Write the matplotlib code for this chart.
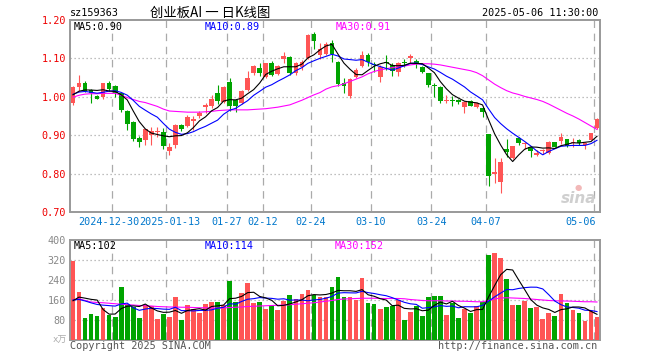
import matplotlib
matplotlib.use('Agg')
import matplotlib.pyplot as plt
from matplotlib.transforms import blended_transform_factory

plt.rcParams['font.family'] = ['DejaVu Sans Mono', 'Noto Sans CJK SC']

W, H = 660, 360

dates = ['2024-12-19','2024-12-20','2024-12-23','2024-12-24','2024-12-25','2024-12-26','2024-12-27','2024-12-30','2024-12-31','2025-01-02',
         '2025-01-03','2025-01-06','2025-01-07','2025-01-08','2025-01-09','2025-01-10','2025-01-13','2025-01-14','2025-01-15','2025-01-16',
         '2025-01-17','2025-01-20','2025-01-21','2025-01-22','2025-01-23','2025-01-24','2025-01-27','2025-02-05','2025-02-06','2025-02-07',
         '2025-02-10','2025-02-11','2025-02-12','2025-02-13','2025-02-14','2025-02-17','2025-02-18','2025-02-19','2025-02-20','2025-02-21',
         '2025-02-24','2025-02-25','2025-02-26','2025-02-27','2025-02-28','2025-03-03','2025-03-04','2025-03-05','2025-03-06','2025-03-07',
         '2025-03-10','2025-03-11','2025-03-12','2025-03-13','2025-03-14','2025-03-17','2025-03-18','2025-03-19','2025-03-20','2025-03-21',
         '2025-03-24','2025-03-25','2025-03-26','2025-03-27','2025-03-28','2025-03-31','2025-04-01','2025-04-02','2025-04-03','2025-04-07',
         '2025-04-08','2025-04-09','2025-04-10','2025-04-11','2025-04-14','2025-04-15','2025-04-16','2025-04-17','2025-04-18','2025-04-21',
         '2025-04-22','2025-04-23','2025-04-24','2025-04-25','2025-04-28','2025-04-29','2025-04-30','2025-05-06']

opens = [0.985,1.026,1.037,1.018,1.002,1.000,1.037,1.028,1.009,0.964,
         0.935,0.894,0.888,0.901,0.908,0.908,0.860,0.874,0.927,0.925,
         0.937,0.950,0.973,0.976,1.009,0.986,1.038,0.992,0.983,1.019,
         1.061,1.076,1.052,1.089,1.059,1.098,1.104,1.063,1.078,1.100,
         1.164,1.108,1.111,1.139,1.091,1.035,1.002,1.051,1.080,1.109,
         1.084,1.052,1.091,1.083,1.065,1.090,1.100,1.094,1.078,1.061,
         1.029,1.026,0.990,0.991,0.991,0.974,0.990,0.973,0.970,0.903,
         0.800,0.779,0.863,0.840,0.892,0.876,0.868,0.848,0.858,0.854,
         0.881,0.886,0.889,0.879,0.888,0.874,0.888,0.918]
highs = [1.028,1.057,1.040,1.021,1.004,1.037,1.042,1.030,1.011,0.966,
         0.937,0.897,0.917,0.922,0.921,0.918,0.879,0.928,0.929,0.953,
         0.951,0.962,0.983,1.005,1.031,1.028,1.050,0.994,1.017,1.068,
         1.082,1.087,1.089,1.092,1.084,1.117,1.107,1.090,1.095,1.163,
         1.168,1.140,1.142,1.148,1.093,1.050,1.050,1.074,1.120,1.115,
         1.091,1.083,1.109,1.089,1.091,1.098,1.111,1.098,1.080,1.062,
         1.035,1.027,1.005,1.002,0.995,0.989,0.991,0.986,0.972,0.903,
         0.841,0.840,0.889,0.873,0.896,0.883,0.870,0.861,0.865,0.885,
         0.883,0.905,0.890,0.892,0.890,0.883,0.906,0.944]
lows = [0.979,1.016,1.012,0.983,0.993,0.995,1.016,1.000,0.960,0.914,
        0.886,0.870,0.874,0.875,0.895,0.864,0.848,0.866,0.912,0.922,
        0.914,0.945,0.958,0.971,0.982,0.984,0.964,0.961,0.980,1.016,
        1.058,1.054,1.050,1.055,1.056,1.089,1.058,1.057,1.070,1.098,
        1.125,1.098,1.108,1.090,1.027,1.010,0.997,1.049,1.078,1.080,
        1.065,1.039,1.070,1.054,1.054,1.078,1.089,1.075,1.061,1.026,
        1.000,0.985,0.985,0.976,0.980,0.959,0.975,0.971,0.948,0.768,
        0.776,0.750,0.844,0.838,0.874,0.863,0.842,0.846,0.852,0.852,
        0.868,0.877,0.870,0.870,0.875,0.863,0.887,0.915]
closes = [1.026,1.037,1.016,1.009,0.995,1.035,1.020,1.010,0.966,0.929,
          0.890,0.882,0.915,0.912,0.910,0.873,0.870,0.927,0.915,0.947,
          0.941,0.957,0.979,0.993,0.990,1.026,0.975,0.976,1.015,1.048,
          1.080,1.061,1.087,1.057,1.080,1.106,1.061,1.087,1.091,1.162,
          1.146,1.125,1.138,1.112,1.034,1.028,1.046,1.070,1.109,1.091,
          1.082,1.078,1.089,1.068,1.087,1.088,1.106,1.085,1.065,1.031,
          1.027,0.989,0.992,0.989,0.986,0.987,0.976,0.984,0.961,0.794,
          0.803,0.831,0.857,0.872,0.880,0.878,0.860,0.854,0.860,0.883,
          0.870,0.896,0.872,0.881,0.879,0.880,0.905,0.941]
volumes = [317,193,89,104,96,127,101,91,213,144,
           133,89,140,136,84,104,93,173,80,140,
           124,109,144,153,153,140,237,153,189,229,
           147,153,124,140,120,157,180,164,184,200,
           180,173,173,213,253,173,173,160,249,149,
           144,124,133,136,160,80,113,136,96,173,
           176,176,100,149,89,124,109,136,153,340,
           349,327,244,140,140,156,129,133,84,109,
           96,185,150,120,109,77,117,91]

# closes / volumes of the sessions just before the window (for the MA5/MA10 start)
prior_closes = [0.980,1.000,1.030,1.020,1.010,0.990,1.000,1.010,1.000]
prior_volumes = [170,150,180,160,155,120,110,128,110]

ma30_price = [0.999,1.004,1.007,1.008,1.008,1.009,1.009,1.009,1.004,0.998,
              0.993,0.988,0.985,0.980,0.975,0.968,0.963,0.962,0.961,0.960,
              0.960,0.960,0.961,0.962,0.964,0.965,0.966,0.966,0.966,0.966,
              0.967,0.968,0.969,0.971,0.973,0.976,0.979,0.985,0.991,0.998,
              1.005,1.011,1.020,1.026,1.029,1.034,1.040,1.046,1.052,1.060,
              1.066,1.070,1.073,1.076,1.078,1.080,1.083,1.085,1.086,1.086,
              1.085,1.083,1.080,1.077,1.074,1.071,1.068,1.063,1.055,1.044,
              1.033,1.024,1.016,1.010,1.006,1.001,0.997,0.993,0.988,0.981,
              0.973,0.965,0.957,0.950,0.942,0.933,0.924,0.915]
ma30_volume = [160,165,158,152,150,149,147,145,143,141,
               140,138,137,136,134,133,132,132,131,131,
               130,129,129,128,128,128,130,131,132,134,
               135,136,137,138,139,140,141,143,145,147,
               149,152,155,158,162,164,165,166,167,167,
               167,166,166,166,166,165,162,160,158,157,
               157,157,156,156,155,155,154,153,153,158,
               164,168,169,168,167,166,164,162,160,158,
               157,156,156,155,154,153,153,152]

tick_dates = ['2024-12-30','2025-01-13','2025-01-27','2025-02-12','2025-02-24',
              '2025-03-10','2025-03-24','2025-04-07','2025-05-06']
tick_labels = ['2024-12-30','2025-01-13','01-27','02-12','02-24','03-10','03-24','04-07','05-06']

price_ticks = [0.70, 0.80, 0.90, 1.00, 1.10, 1.20]
volume_ticks = [80, 160, 240, 320, 400]

title_code = 'sz159363'
title_name = '创业板AI 一 日K线图'
title_time = '2025-05-06 11:30:00'
price_ma_labels = ['MA5:0.90', 'MA10:0.89', 'MA30:0.91']
volume_ma_labels = ['MA5:102', 'MA10:114', 'MA30:152']


def moving_average(values, prior, n):
    full = list(prior) + list(values)
    out = []
    for k in range(len(prior), len(full)):
        win = full[max(0, k - n + 1):k + 1]
        out.append(sum(win) / len(win))
    return out


RED = '#FF5555'
GREEN = '#00A400'
GRID = '#AAAAAA'
FRAME = '#999999'
DATE_C = '#0077CC'
FS = 7.3

n = len(closes)
idx = list(range(n))
colors = [RED if c >= o else GREEN for o, c in zip(opens, closes)]
ma5 = moving_average(closes, prior_closes, 5)
ma10 = moving_average(closes, prior_closes, 10)
vma5 = moving_average(volumes, prior_volumes, 5)
vma10 = moving_average(volumes, prior_volumes, 10)

fig = plt.figure(figsize=(W / 100, H / 100), dpi=100)
ax1 = fig.add_axes([70 / W, 1 - 212 / H, 530 / W, 192 / H])
ax2 = fig.add_axes([70 / W, 1 - 340 / H, 530 / W, 100 / H])

tick_pos = [dates.index(d) - 0.5 for d in tick_dates]

for ax, ylo, yhi in ((ax1, 0.70, 1.20), (ax2, 0, 400)):
    ax.set_xlim(-0.5, n - 0.5)
    ax.set_ylim(ylo, yhi)
    for s in ax.spines.values():
        s.set_color(FRAME)
        s.set_linewidth(1.4)
    ax.set_xticks([])
    ax.tick_params(axis='y', length=0, pad=3, labelsize=FS)
    for tp in tick_pos:
        ax.plot([tp, tp], [yhi, ylo], color=GRID, lw=0.9, ls=(0, (6, 4.5)), zorder=1)

# price panel
for g in price_ticks[1:-1]:
    ax1.plot([-0.5, n - 0.5], [g, g], color=GRID, lw=0.9, ls=(0, (1, 2.2)), zorder=1)
ax1.set_yticks(price_ticks)
ax1.set_yticklabels(['%.2f' % v for v in price_ticks], color='#EE0000')

body_w = 0.78
for i in idx:
    ax1.vlines(i, lows[i], highs[i], color=colors[i], lw=0.8, zorder=3)
    lo = min(opens[i], closes[i])
    h = max(abs(closes[i] - opens[i]), 0.0026)
    ax1.bar(i, h, bottom=lo, width=body_w, color=colors[i], linewidth=0, zorder=4)

ax1.plot(idx, ma30_price, color='#FF00FF', lw=0.8, zorder=5)
ax1.plot(idx, ma10, color='#0000FF', lw=0.8, zorder=6)
ax1.plot(idx, ma5, color='black', lw=0.8, zorder=7)

# volume panel
for g in volume_ticks[:-1]:
    ax2.plot([-0.5, n - 0.5], [g, g], color=GRID, lw=0.9, ls=(0, (1, 2.2)), zorder=1)
ax2.set_yticks(volume_ticks)
ax2.set_yticklabels([str(v) for v in volume_ticks], color='#888888')
ax2.bar(idx, volumes, width=body_w, color=colors, linewidth=0, zorder=3)
ax2.plot(idx, ma30_volume, color='#FF00FF', lw=0.8, zorder=5)
ax2.plot(idx, vma10, color='#0000FF', lw=0.8, zorder=6)
ax2.plot(idx, vma5, color='black', lw=0.8, zorder=7)

# date labels (the first two nudged apart so they just touch, as in the reference)
tr = blended_transform_factory(ax1.transData, fig.transFigure)
nudge = {0: -0.5, 1: 0.5}
for k, (tp, lab) in enumerate(zip(tick_pos, tick_labels)):
    if k == len(tick_labels) - 1:
        fig.text(596 / W, 1 - 222 / H, lab, ha='right', va='center', fontsize=FS, color=DATE_C)
    else:
        ax1.text(tp + nudge.get(k, 0), 1 - 222 / H, lab, transform=tr, ha='center', va='center',
                 fontsize=FS, color=DATE_C, clip_on=False)


def ftext(x, y, s, **kw):
    fig.text(x / W, 1 - y / H, s, va='center', **kw)


ftext(70, 13, title_code, ha='left', fontsize=FS, color='black')
ftext(150, 13, title_name, ha='left', fontsize=9.6,
      family=['Noto Sans CJK SC', 'DejaVu Sans'], color='black')
ftext(598, 13, title_time, ha='right', fontsize=FS, color='black')

ma_cols = ['black', '#0000FF', '#FF00FF']
for lab, x, c in zip(price_ma_labels, (74, 205, 336), ma_cols):
    ftext(x, 26.5, lab, ha='left', fontsize=FS, color=c)
for lab, x, c in zip(volume_ma_labels, (74, 205, 335), ma_cols):
    ftext(x, 246, lab, ha='left', fontsize=FS, color=c)

ftext(67, 340, 'x万', ha='right', fontsize=6.5, color='#AAAAAA',
      family=['DejaVu Sans Mono', 'Noto Sans CJK SC'])
ftext(70, 346, 'Copyright 2025 SINA.COM', ha='left', fontsize=FS, color='#555555')
ftext(597, 346, 'http://finance.sina.com.cn', ha='right', fontsize=FS, color='#555555')

# sina watermark
ftext(579, 198, 'sina', ha='center', fontsize=11, fontweight='bold', style='italic',
      color='#CFCFCF', family=['DejaVu Sans'])
ftext(578, 187, '\u25cf', ha='center', fontsize=6, color='#F2B8B8', family=['DejaVu Sans'])

fig.savefig('out.png', dpi=100)
